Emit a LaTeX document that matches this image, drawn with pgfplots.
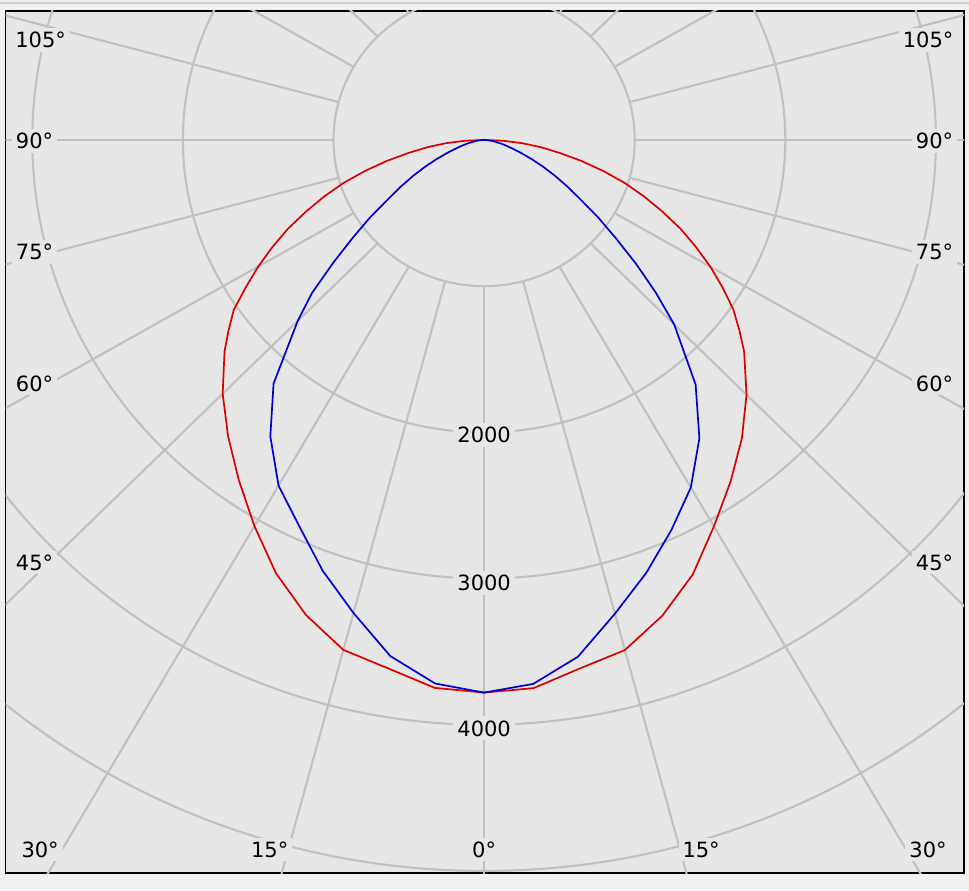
\documentclass[border=0pt]{standalone}
\usepackage{fontspec}
\setmainfont{DejaVu Sans}
\usepackage{pgfplots}
\usepackage{pgfplotstable}
\pgfplotsset{compat=1.18}
\definecolor{outerbg}{RGB}{240,240,240}
\definecolor{innerbg}{RGB}{230,230,230}
\definecolor{gridc}{RGB}{192,192,192}
\definecolor{redc}{RGB}{220,0,0}
\definecolor{bluec}{RGB}{0,0,210}
\tikzset{lbl/.style={fill=innerbg, inner sep=2pt, text=black, font=\fontsize{10.5}{12}\selectfont}}

% angle (deg, negative = left half), intensity (cd)
\pgfplotstableread{
a I
-90 0
-87.5 126
-85 253
-82.5 380
-80 507
-77.5 660
-75 818
-72.5 980
-70 1130
-67.5 1280
-65 1437
-62.5 1584
-60 1732
-57.5 1877
-55 2030
-52.5 2139
-50 2250
-45 2455
-40 2645
-35 2840
-30 3050
-25 3270
-20 3458
-15 3611
-10 3670
-5 3762
0 3780
5 3764
10 3670
15 3612
20 3462
25 3279
30 3052
35 2853
40 2663
45 2464
50 2254
52.5 2136
55 2020
57.5 1877
60 1735
62.5 1586
65 1440
67.5 1282
70 1130
72.5 980
75 818
77.5 660
80 507
82.5 380
85 253
87.5 126
90 0
}\redtab

\pgfplotstableread{
a I
-90 0
-87.5 15
-85 33
-82.5 55
-80 80
-77.5 115
-75 153
-72.5 200
-70 262
-67.5 340
-65 430
-62.5 530
-60 640
-57.5 760
-55 925
-52.5 1100
-50 1310
-47.5 1551
-45 1750
-40 2175
-35 2475
-30 2730
-25 2910
-20 3135
-15 3350
-10 3585
-5 3732
0 3780
5 3735
10 3589
15 3355
20 3150
25 2943
30 2745
35 2492
40 2185
45 1785
47.5 1547
50 1315
52.5 1100
55 925
57.5 760
60 640
62.5 530
65 430
67.5 340
70 262
72.5 200
75 153
77.5 115
80 80
82.5 55
85 33
87.5 15
90 0
}\bluetab

\begin{document}
\begin{tikzpicture}
\path[use as bounding box, fill=outerbg] (-2.75pt,-8.5pt) rectangle (481.75pt,436.5pt);
\draw[color=black!18, line width=0.6pt] (-2.75pt,435pt) -- (481.75pt,435pt);
\begin{axis}[
  x=75.3pt, y=73.1pt,
  xmin=-3.178, xmax=3.187,
  ymin=-5.014, ymax=0.882,
  xtick=\empty, ytick=\empty,
  axis background/.style={fill=innerbg},
  axis line style={black, line width=0.9pt},
]
% rings
\pgfplotsinvokeforeach{1,2,3,4,5,6}{
  \draw[gridc, line width=1.05pt] (axis cs:0,0) ellipse [x radius=#1, y radius=#1];
}
% rays
\pgfplotsinvokeforeach{0,15,...,345}{
  \pgfmathsetmacro\xa{sin(#1)}
  \pgfmathsetmacro\ya{-cos(#1)}
  \pgfmathsetmacro\xb{8*sin(#1)}
  \pgfmathsetmacro\yb{-8*cos(#1)}
  \edef\temp{\noexpand\draw[gridc, line width=1.05pt] (axis cs:\xa,\ya) -- (axis cs:\xb,\yb);}
  \temp
}
% labels
\node[lbl] at (axis cs:-2.945,0.684) {105°};
\node[lbl] at (axis cs:-2.985,-0.007) {90°};
\node[lbl] at (axis cs:-2.985,-0.766) {75°};
\node[lbl] at (axis cs:-2.985,-1.666) {60°};
\node[lbl] at (axis cs:-2.985,-2.890) {45°};
\node[lbl] at (axis cs:2.948,0.684) {105°};
\node[lbl] at (axis cs:2.991,-0.007) {90°};
\node[lbl] at (axis cs:2.991,-0.766) {75°};
\node[lbl] at (axis cs:2.991,-1.666) {60°};
\node[lbl] at (axis cs:2.991,-2.890) {45°};
\node[lbl] at (axis cs:-2.948,-4.853) {30°};
\node[lbl] at (axis cs:-1.424,-4.853) {15°};
\node[lbl] at (axis cs:0,-4.853) {0°};
\node[lbl] at (axis cs:1.441,-4.853) {15°};
\node[lbl] at (axis cs:2.948,-4.853) {30°};
\node[lbl] at (axis cs:0,-2.018) {2000};
\node[lbl] at (axis cs:0,-3.030) {3000};
\node[lbl] at (axis cs:0,-4.025) {4000};
% curves
\addplot[redc, line width=0.85pt, mark=none] table[
  x expr={\thisrow{I}*sin(\thisrow{a})/1000},
  y expr={-\thisrow{I}*cos(\thisrow{a})/1000}] {\redtab};
\addplot[bluec, line width=0.85pt, mark=none] table[
  x expr={\thisrow{I}*sin(\thisrow{a})/1000},
  y expr={-\thisrow{I}*cos(\thisrow{a})/1000}] {\bluetab};
\end{axis}
\end{tikzpicture}
\end{document}
